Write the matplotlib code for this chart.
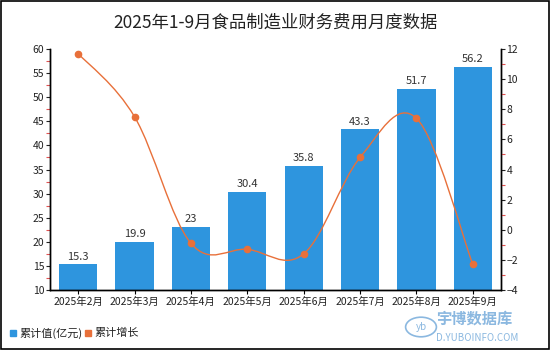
import matplotlib
matplotlib.use('Agg')
import matplotlib.pyplot as plt
from matplotlib.path import Path
from matplotlib.patches import PathPatch, Rectangle, Circle
import numpy as np

plt.rcParams['font.family'] = ['Noto Sans CJK SC', 'DejaVu Sans']

# data
months = ['2025年2月', '2025年3月', '2025年4月', '2025年5月', '2025年6月', '2025年7月', '2025年8月', '2025年9月']
cum_value = [15.3, 19.9, 23, 30.4, 35.8, 43.3, 51.7, 56.2]
cum_growth = [11.7, 7.5, -0.9, -1.3, -1.6, 4.8, 7.4, -2.3]

bar_color = '#2E95DE'
line_color = '#E8703A'

fig = plt.figure(figsize=(5.5, 3.5), dpi=100)
ax = fig.add_axes([0.0909, 0.1714, 0.8200, 0.6886])
ax2 = ax.twinx()

x = np.arange(len(months))
ax.bar(x, cum_value, width=0.68, color=bar_color, zorder=2)
for xi, v in zip(x, cum_value):
    ax.text(xi, v + 0.6, ('%g' % v), ha='center', va='bottom', fontsize=8, color='#333333')

ax.set_xlim(-0.5, len(months) - 0.5)
ax.set_ylim(10, 60)
ax.set_yticks(np.arange(10, 61, 5))
ax.set_yticks(np.arange(12.5, 60, 5), minor=True)
ax.set_xticks(x)
ax.set_xticklabels(months, fontsize=7.5, color='#222222')
ax.tick_params(axis='y', which='major', labelsize=7.5, length=3, width=0.8, colors='#222222', pad=1)
ax.tick_params(axis='y', which='minor', length=3, width=0.8, color='#E05050')
ax.tick_params(axis='x', length=3, pad=2)

ax2.set_ylim(-4, 12)
ax2.set_yticks(np.arange(-4, 13, 2))
ax2.set_yticks(np.arange(-3, 12, 2), minor=True)
ax2.tick_params(axis='y', which='major', labelsize=7.5, length=3, width=0.8, colors='#222222', pad=1)
ax2.tick_params(axis='y', which='minor', length=3, width=0.8, color='#E05050')

for a in (ax, ax2):
    a.spines['top'].set_visible(False)
    for s in ('left', 'right', 'bottom'):
        a.spines[s].set_linewidth(1.0)
        a.spines[s].set_color('black')

# smooth line through growth points (bezier path, catmull-rom style)
pts = np.column_stack([x, cum_growth]).astype(float)
verts = [tuple(pts[0])]
codes = [Path.MOVETO]
k = 0.35
for i in range(len(pts) - 1):
    p0 = pts[i - 1] if i > 0 else pts[i]
    p1 = pts[i]
    p2 = pts[i + 1]
    p3 = pts[i + 2] if i + 2 < len(pts) else pts[i + 1]
    c1 = p1 + (p2 - p0) * k / 2
    c2 = p2 - (p3 - p1) * k / 2
    verts += [tuple(c1), tuple(c2), tuple(p2)]
    codes += [Path.CURVE4, Path.CURVE4, Path.CURVE4]
ax2.add_patch(PathPatch(Path(verts, codes), fill=False, edgecolor=line_color, lw=1.0, zorder=3))
ax2.plot(x, cum_growth, 'o', color=line_color, ms=4.5, zorder=4)

fig.text(0.5, 0.935, '2025年1-9月食品制造业财务费用月度数据', ha='center', va='center', fontsize=12.5, color='#222222')

# legend
fig.patches.append(Rectangle((10 / 550, 1 - 336 / 350), 6 / 550, 6 / 350, transform=fig.transFigure, color=bar_color))
fig.text(19 / 550, 1 - 333 / 350, '累计值(亿元)', fontsize=8, va='center', color='#222222')
fig.patches.append(Rectangle((85 / 550, 1 - 336 / 350), 6 / 550, 6 / 350, transform=fig.transFigure, color=line_color))
fig.text(94 / 550, 1 - 333 / 350, '累计增长', fontsize=8, va='center', color='#222222')

# watermark
wm = '#8BB8E0'
fig.patches.append(Circle((421 / 550, 1 - 327 / 350), 0.028, transform=fig.transFigure, fill=False, edgecolor=wm, lw=1.2))
fig.text(421 / 550, 1 - 327 / 350, 'yb', fontsize=7, color=wm, ha='center', va='center', style='italic')
fig.text(436 / 550, 1 - 319 / 350, '宇博数据库', fontsize=11, color=wm, va='center', fontweight='bold')
fig.text(436 / 550, 1 - 338 / 350, 'D.YUBOINFO.COM', fontsize=7, color=wm, va='center')

# outer border
fig.patches.append(Rectangle((0.001, 0.002), 0.997, 0.995, transform=fig.transFigure, fill=False, edgecolor='black', lw=1.2))

fig.savefig('out.png', dpi=100)
